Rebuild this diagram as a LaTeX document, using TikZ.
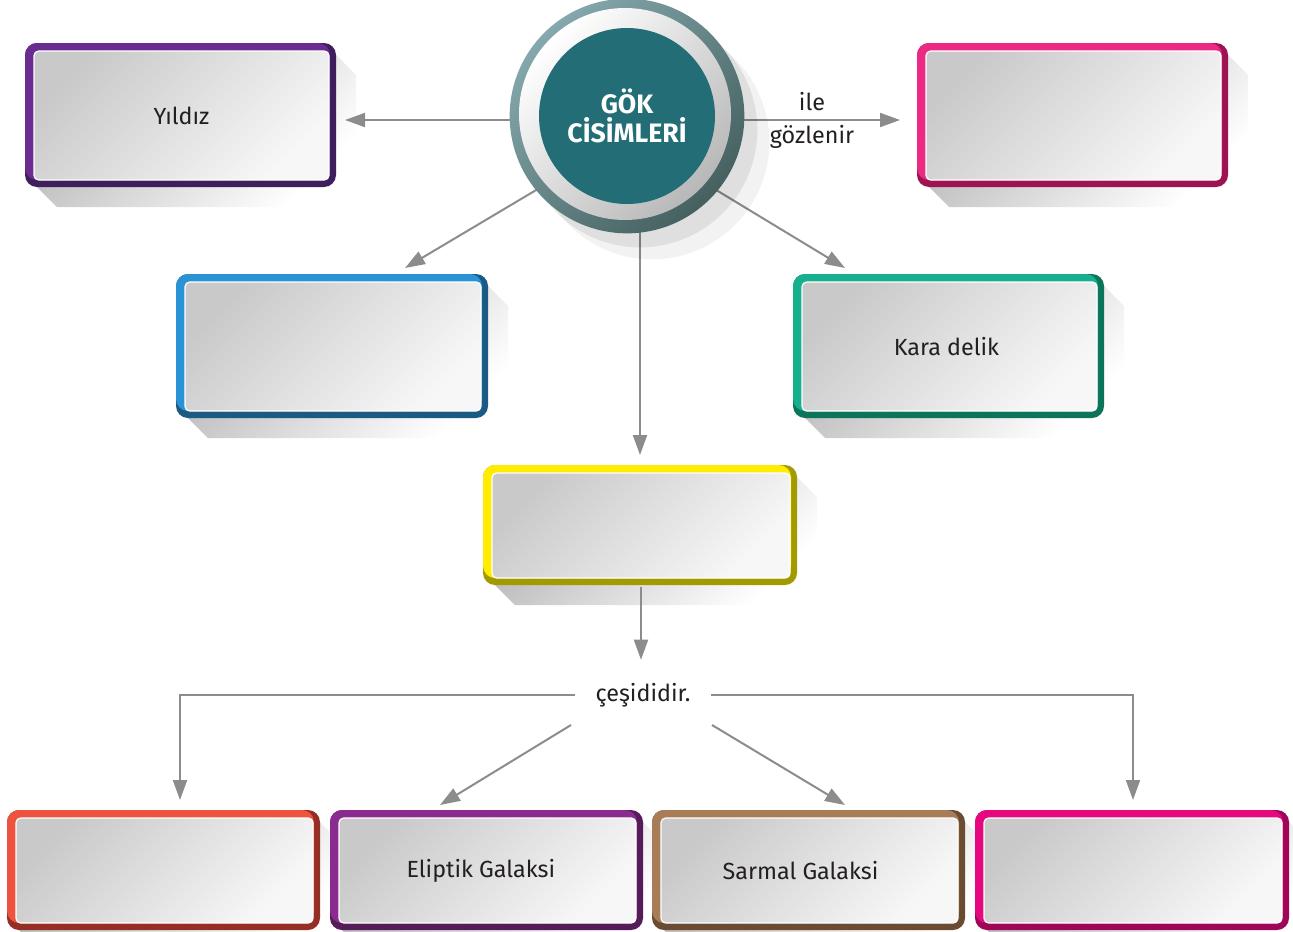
\documentclass[tikz,border=0pt]{standalone}
\usepackage{fontspec}
\setmainfont{Fira Sans}
\usetikzlibrary{arrows.meta}
\definecolor{puA}{HTML}{6A2C91}\definecolor{puAd}{HTML}{3E1E5C}
\definecolor{pk}{HTML}{EC2A84}\definecolor{pkd}{HTML}{9E1452}
\definecolor{bl}{HTML}{2A93D5}\definecolor{bld}{HTML}{1B5A82}
\definecolor{gr}{HTML}{16B08E}\definecolor{grd}{HTML}{0C7459}
\definecolor{ye}{HTML}{FFEC00}\definecolor{yed}{HTML}{A39A00}
\definecolor{rd}{HTML}{EE5340}\definecolor{rdd}{HTML}{952E25}
\definecolor{puB}{HTML}{8A2B8F}\definecolor{puBd}{HTML}{561B59}
\definecolor{br}{HTML}{A77C56}\definecolor{brd}{HTML}{6B4B31}
\definecolor{mg}{HTML}{E5087E}\definecolor{mgd}{HTML}{9F0657}
\definecolor{arrgray}{HTML}{8C8C8E}
\definecolor{teal}{HTML}{236D77}
\definecolor{ringL}{HTML}{84A8AD}\definecolor{ringD}{HTML}{45605F}
\definecolor{txt}{HTML}{231F20}
\newcommand\gbox[8]{%
  \shade[top color=black!30,bottom color=white,shading angle=45] (#4-4,#3+8) -- (#4+20,#3+32) -- (#4+20,#5+20) -- (#2+32,#5+20) -- (#2+8,#5-4) -- cycle;
  \fill[#7,rounded corners=9pt] (#2,#3) rectangle (#4,#5);
  \fill[#6,rounded corners=9pt] (#2,#3) rectangle (#4-6,#5-7);
  \node[panel,minimum width={(#4-#2-16)*0.75pt},minimum height={(#5-#3-15)*0.75pt}] (#1) at ({(#2+#4+2)/2},{(#3+#5+1)/2}) {#8};
}
\begin{document}
\begin{tikzpicture}[x=0.75pt,y=-0.75pt,
  panel/.style={rectangle,rounded corners=3.5pt,inner sep=0pt,draw=white,line width=0.9pt,
    top color=black!21,bottom color=black!3,shading angle=45,
    text=txt,font=\fontsize{17.5}{20}\selectfont},
  arr/.style={draw=arrgray,line width=1.5pt,-{Triangle[length=15pt,width=10.5pt]}},
  lbl/.style={text=txt,font=\fontsize{17.5}{20}\selectfont,inner sep=0pt}]
\useasboundingbox (0,0) rectangle (1293,932);
% coordinates for connector ends
\coordinate (cL) at (600,120);
\coordinate (cR) at (650,120);
\coordinate (cD) at (627,136);
\coordinate (cV) at (640,200);
\coordinate (tYil) at (345,120);
\coordinate (tGoz) at (900,120);
\coordinate (tBlue) at (405,268);
\coordinate (tKara) at (845,268);
\coordinate (tGal) at (640,455);
\coordinate (lb) at (180,800);
\coordinate (rb) at (1133,800);
\coordinate (dLs) at (571,725);
\coordinate (dLe) at (440,805);
\coordinate (dRs) at (712,725);
\coordinate (dRe) at (845,805);
% boxes
\gbox{yildiz}{25}{43}{336}{187}{puA}{puAd}{Yıldız}
\gbox{gozlem}{917}{43}{1228}{187}{pk}{pkd}{}
\gbox{blue}{176}{274}{488}{418}{bl}{bld}{}
\gbox{kara}{793}{274}{1104}{418}{gr}{grd}{Kara delik\kern4.5pt}
\gbox{galaksi}{483}{465}{797}{585}{ye}{yed}{}
\gbox{b1}{7}{810}{320}{930}{rd}{rdd}{}
\gbox{b2}{330}{810}{643}{930}{puB}{puBd}{Eliptik Galaksi\kern10pt}
\gbox{b3}{652}{810}{965}{930}{br}{brd}{Sarmal Galaksi\kern13.5pt}
\gbox{b4}{975}{810}{1289}{930}{mg}{mgd}{}
% arrows from the circle
\draw[arr] (cL) -- (tYil);
\draw[arr] (cR) -- (tGoz);
\draw[arr] (cD) -- (tBlue);
\draw[arr] (cD) -- (tKara);
\draw[arr] (cV) -- (tGal);
% circle
\fill[black,opacity=0.08] (640,130) circle (88pt);
\fill[black,opacity=0.05] (652,142) circle (88pt);
\shade[top color=ringL,bottom color=ringD,shading angle=45] (627,116) circle (88pt);
\shade[top color=white,bottom color=black!28,shading angle=45] (625,114) circle (79.5pt);
\node[circle,minimum size=132pt,inner sep=0pt,fill=teal,text=white,align=center,
  font=\fontsize{20}{22}\selectfont\bfseries] (gok) at (627,116) {GÖK\\CİSİMLERİ};
% labels
\node[lbl] (ile) at (812,102) {ile};
\node[lbl] (gozlenir) at (812,137) {gözlenir};
% lower part
\node[lbl,minimum height=52.5pt,inner xsep=15pt] (ces) at (643,695) {çeşididir.};
\draw[arr,shorten <=6pt] (galaksi.south) -- (galaksi.south |- ces.north);
\draw[arr] (ces.west) -| (lb);
\draw[arr] (ces.east) -| (rb);
\draw[arr] (dLs) -- (dLe);
\draw[arr] (dRs) -- (dRe);
\end{tikzpicture}
\end{document}
